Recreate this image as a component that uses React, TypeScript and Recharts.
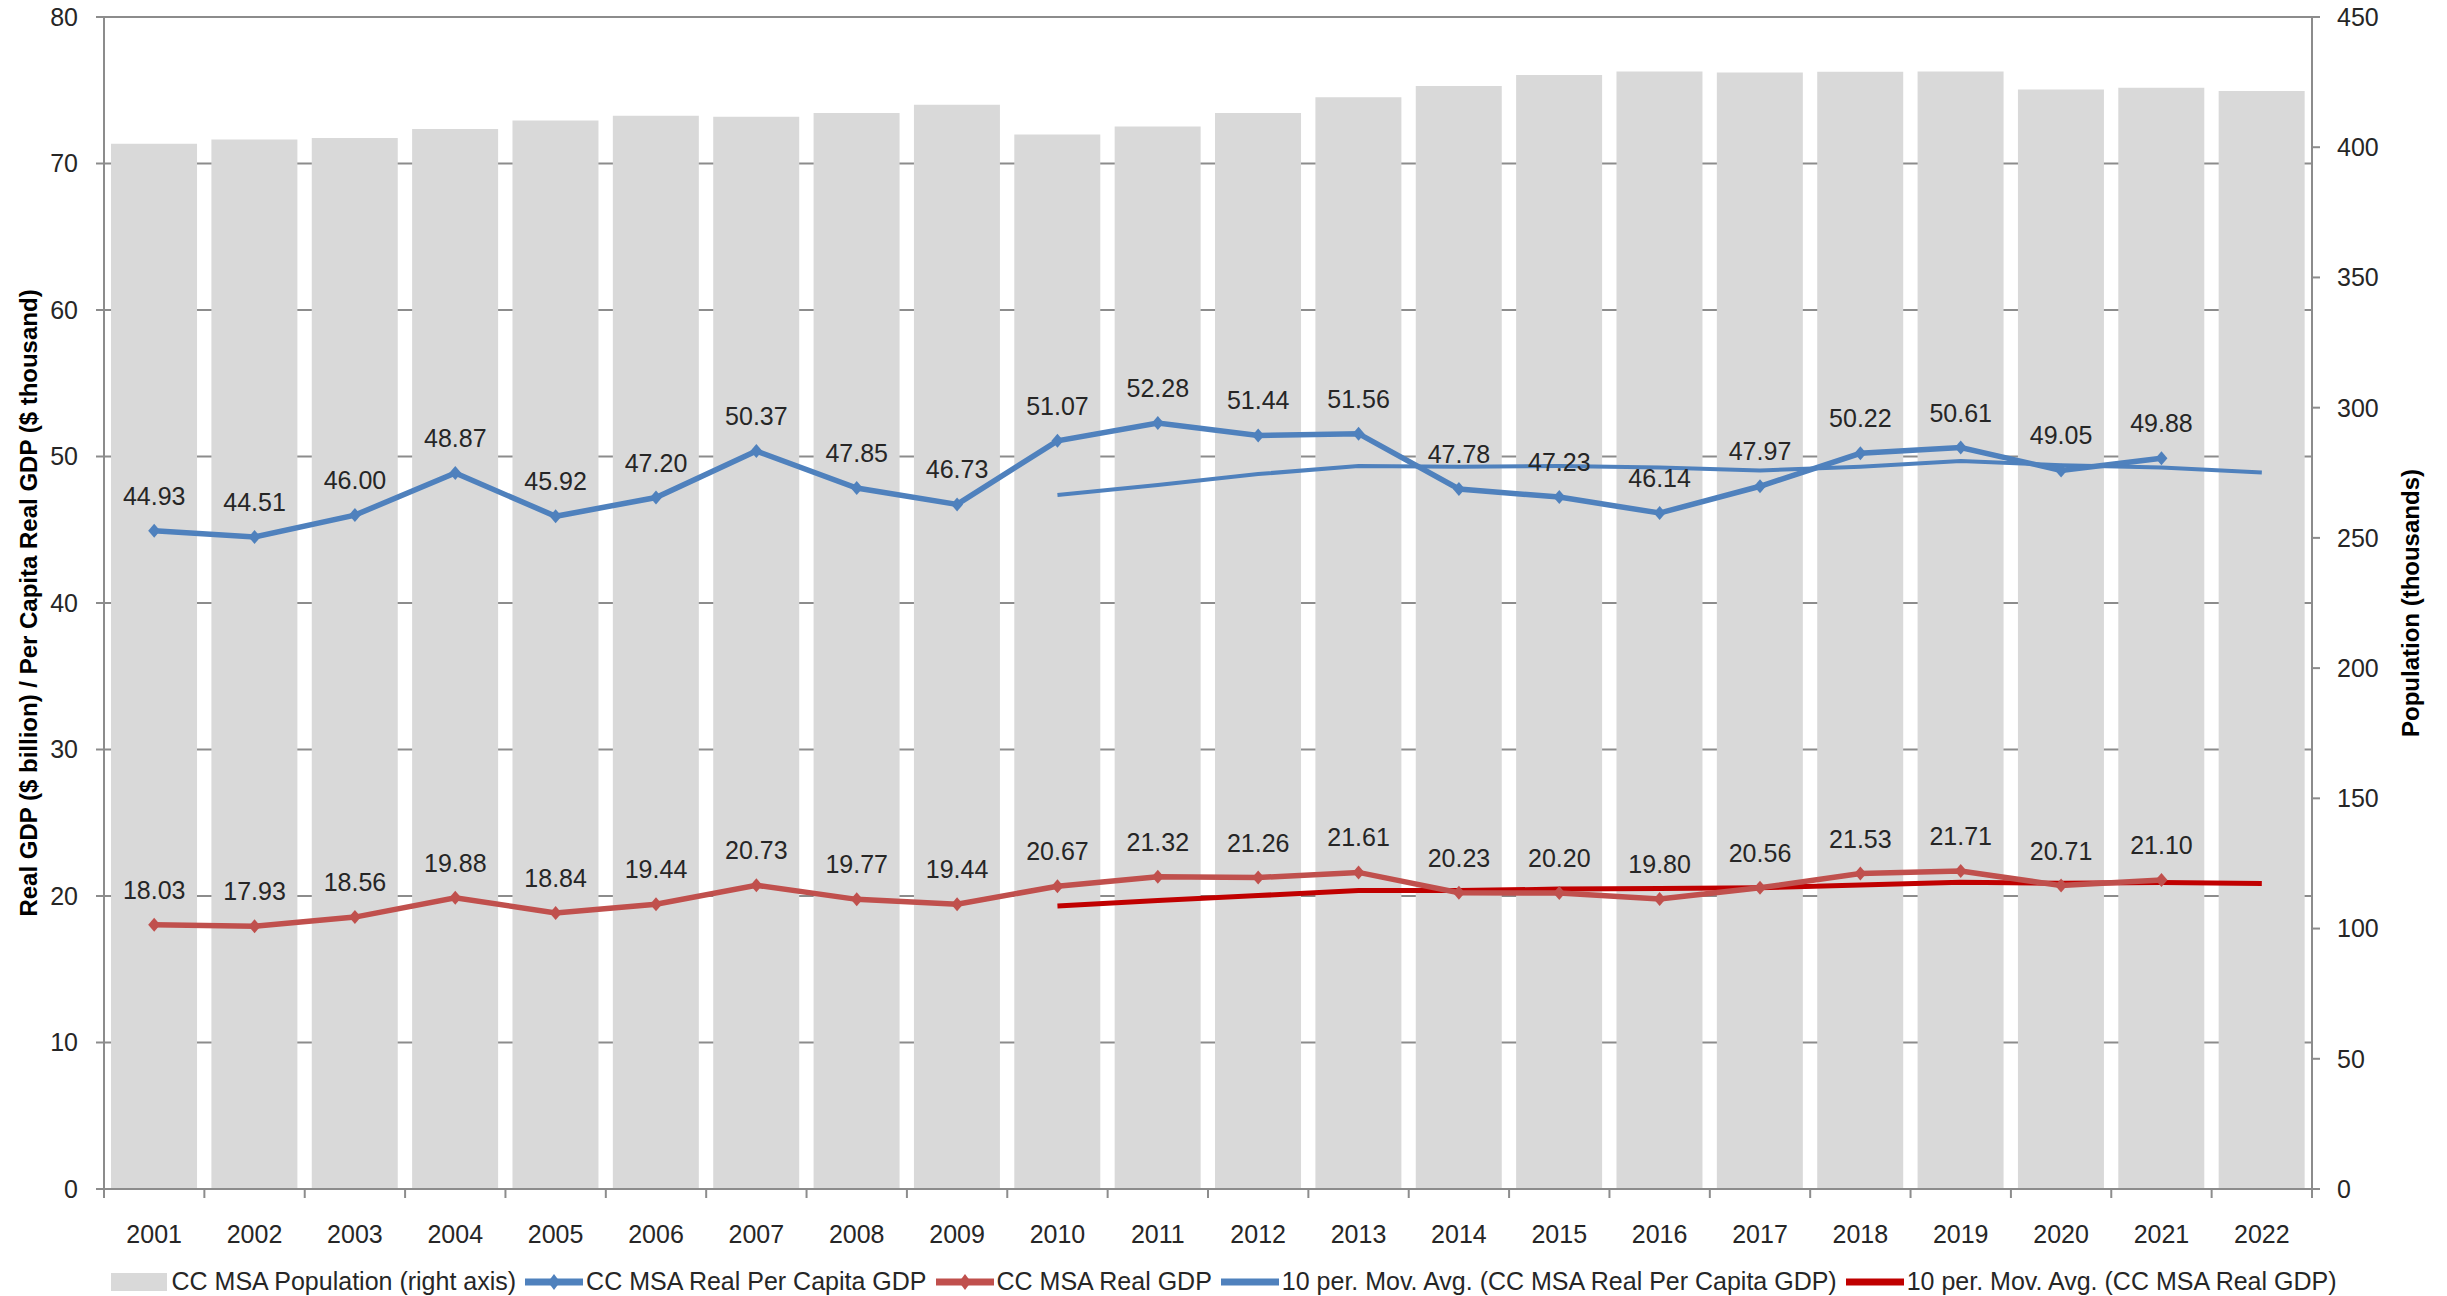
import React from 'react'
import {
  ComposedChart, Bar, Line, XAxis, YAxis, CartesianGrid, Legend, LabelList
} from 'recharts'

const years = ['2001', '2002', '2003', '2004', '2005', '2006', '2007', '2008', '2009', '2010', '2011',
  '2012', '2013', '2014', '2015', '2016', '2017', '2018', '2019', '2020', '2021', '2022']

const population = [401.3, 403.0, 403.5, 407.0, 410.3, 412.1, 411.7, 413.1, 416.3, 404.9, 408.0,
  413.1, 419.2, 423.5, 427.7, 429.1, 428.7, 429.0, 429.1, 422.2, 422.8, 421.6]

const perCapita = [44.93, 44.51, 46.00, 48.87, 45.92, 47.20, 50.37, 47.85, 46.73, 51.07, 52.28,
  51.44, 51.56, 47.78, 47.23, 46.14, 47.97, 50.22, 50.61, 49.05, 49.88, null]

const realGdp = [18.03, 17.93, 18.56, 19.88, 18.84, 19.44, 20.73, 19.77, 19.44, 20.67, 21.32,
  21.26, 21.61, 20.23, 20.20, 19.80, 20.56, 21.53, 21.71, 20.71, 21.10, null]

// 10 per. moving averages as drawn (start in 2010)
const perCapitaMA = [null, null, null, null, null, null, null, null, null, 47.37, 48.05,
  48.8, 49.35, 49.3, 49.35, 49.25, 49.05, 49.3, 49.7, 49.4, 49.25, 48.9]

const realGdpMA = [null, null, null, null, null, null, null, null, null, 19.32, 19.69,
  20.03, 20.37, 20.37, 20.47, 20.52, 20.56, 20.75, 20.94, 20.87, 20.92, 20.85]

const leftTicks = [0, 10, 20, 30, 40, 50, 60, 70, 80]
const rightTicks = [0, 50, 100, 150, 200, 250, 300, 350, 400, 450]

const data = years.map((year, i) => ({
  year,
  population: population[i],
  perCapita: perCapita[i],
  realGdp: realGdp[i],
  perCapitaMA: perCapitaMA[i],
  realGdpMA: realGdpMA[i],
}))

const BLUE = '#4F81BD'
const RED = '#C0504D'
const DARK_RED = '#C00000'
const BAR = '#D9D9D9'
const GRID = '#8C8C8C'
const FONT = '"Liberation Sans", Arial, sans-serif'
const TEXT = '#262626'

const Diamond = ({ cx, cy, fill }: any) => {
  if (cx == null || cy == null) return null
  return <path d={`M${cx},${cy - 7} L${cx + 6},${cy} L${cx},${cy + 7} L${cx - 6},${cy} Z`} fill={fill} />
}

const YearTick = ({ x, y, payload, index, width }: any) => {
  const band = width ? width / years.length : 100.36
  const left = x - band / 2
  return (
    <g>
      <line x1={left} y1={y - 8} x2={left} y2={y + 1} stroke={GRID} strokeWidth={2} />
      {index === years.length - 1 && (
        <line x1={x + band / 2} y1={y - 8} x2={x + band / 2} y2={y + 1} stroke={GRID} strokeWidth={2} />
      )}
      <text x={x} y={y + 37} dy="0.35em" textAnchor="middle" fontSize={25} fontFamily={FONT} fill={TEXT}>
        {payload.value}
      </text>
    </g>
  )
}

const legendItems = [
  { name: 'CC MSA Population (right axis)', kind: 'bar', color: BAR },
  { name: 'CC MSA Real Per Capita GDP', kind: 'marker', color: BLUE },
  { name: 'CC MSA Real GDP', kind: 'marker', color: RED },
  { name: '10 per. Mov. Avg. (CC MSA Real Per Capita GDP)', kind: 'line', color: BLUE },
  { name: '10 per. Mov. Avg. (CC MSA Real GDP)', kind: 'line', color: DARK_RED },
]

const renderLegend = () => (
  <div style={{ display: 'flex', justifyContent: 'center', alignItems: 'center', gap: 9,
    fontFamily: FONT, fontSize: 25, color: TEXT, height: 45, paddingTop: 8 }}>
    {legendItems.map((it) => (
      <div key={it.name} style={{ display: 'flex', alignItems: 'center', gap: 3 }}>
        <svg width={58} height={20}>
          {it.kind === 'bar' && <rect x={0} y={1} width={56} height={18} fill={it.color} />}
          {it.kind !== 'bar' && <line x1={0} y1={10} x2={58} y2={10} stroke={it.color} strokeWidth={7} />}
          {it.kind === 'marker' && <path d="M29,2 L35,10 L29,18 L23,10 Z" fill={it.color} />}
        </svg>
        <span style={{ whiteSpace: 'nowrap' }}>{it.name}</span>
      </div>
    ))}
  </div>
)

const labelStyle = { fontSize: 25, fontFamily: FONT, fill: TEXT }

export default function App() {
  return (
    <div style={{ position: 'absolute', left: 0, top: 0, background: '#fff' }}>
      <ComposedChart width={2447} height={1296} data={data} barCategoryGap="7%"
        margin={{ top: 17, right: 0, bottom: 0, left: 0 }}>
        <CartesianGrid yAxisId="left" vertical={false} stroke={GRID} strokeWidth={2} />
        <XAxis dataKey="year" height={62} tick={<YearTick />} tickLine={false}
          axisLine={{ stroke: GRID, strokeWidth: 2 }} interval={0} />
        <YAxis yAxisId="left" width={104} domain={[0, 80]} ticks={leftTicks} interval={0}
          axisLine={{ stroke: GRID, strokeWidth: 2 }} tickLine={{ stroke: GRID, strokeWidth: 2 }}
          tickSize={8} tickMargin={18}
          tick={{ fontSize: 25, fontFamily: FONT, fill: TEXT }}
          label={{ value: 'Real GDP ($ billion) / Per Capita Real GDP ($ thousand)', angle: -90,
            position: 'center', dx: -24, style: { fontSize: 24, fontWeight: 'bold', fontFamily: FONT, fill: '#000', textAnchor: 'middle' } }} />
        <YAxis yAxisId="right" orientation="right" width={135} domain={[0, 450]} ticks={rightTicks} interval={0}
          axisLine={{ stroke: GRID, strokeWidth: 2 }} tickLine={{ stroke: GRID, strokeWidth: 2 }}
          tickSize={8} tickMargin={17}
          tick={{ fontSize: 25, fontFamily: FONT, fill: TEXT }}
          label={{ value: 'Population (thousands)', angle: -90, position: 'center', dx: 31,
            style: { fontSize: 24, fontWeight: 'bold', fontFamily: FONT, fill: '#000', textAnchor: 'middle' } }} />
        <Legend verticalAlign="bottom" height={45} content={renderLegend} />
        <Bar yAxisId="right" dataKey="population" name="CC MSA Population (right axis)" fill={BAR}
          isAnimationActive={false} />
        <Line yAxisId="left" dataKey="perCapitaMA" name="10 per. Mov. Avg. (CC MSA Real Per Capita GDP)"
          stroke={BLUE} strokeWidth={4} dot={false} activeDot={false} isAnimationActive={false} />
        <Line yAxisId="left" dataKey="realGdpMA" name="10 per. Mov. Avg. (CC MSA Real GDP)"
          stroke={DARK_RED} strokeWidth={5} dot={false} activeDot={false} isAnimationActive={false} />
        <Line yAxisId="left" dataKey="perCapita" name="CC MSA Real Per Capita GDP" stroke={BLUE}
          strokeWidth={5.5} dot={<Diamond fill={BLUE} />} activeDot={false} isAnimationActive={false}>
          <LabelList dataKey="perCapita" position="top" offset={26} style={labelStyle}
            formatter={(v: any) => (v == null ? '' : Number(v).toFixed(2))} />
        </Line>
        <Line yAxisId="left" dataKey="realGdp" name="CC MSA Real GDP" stroke={RED}
          strokeWidth={5.5} dot={<Diamond fill={RED} />} activeDot={false} isAnimationActive={false}>
          <LabelList dataKey="realGdp" position="top" offset={26} style={labelStyle}
            formatter={(v: any) => (v == null ? '' : Number(v).toFixed(2))} />
        </Line>
      </ComposedChart>
    </div>
  )
}
